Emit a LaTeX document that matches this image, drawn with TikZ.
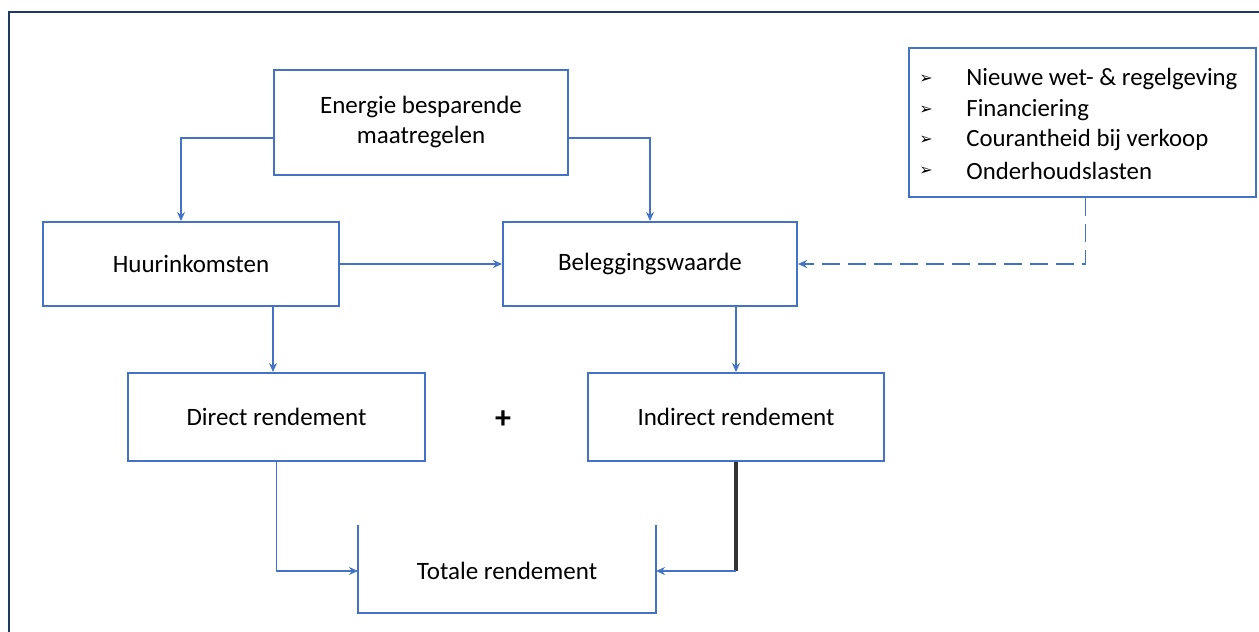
\documentclass[tikz,border=0pt]{standalone}
\usepackage{fontspec}
\setmainfont{Carlito}
\newfontfamily\symfont{DejaVu Sans}
\usetikzlibrary{arrows.meta}
\definecolor{boxblue}{HTML}{4472C4}
\definecolor{navy}{HTML}{1F3864}
\tikzset{
  box/.style={draw=boxblue, line width=1pt, fill=white, align=center, font=\fontsize{12.5}{15}\selectfont, inner sep=2pt},
  conn/.style={draw=boxblue, line width=0.9pt, -{Stealth[length=4.5pt,width=4pt]}},
  listtext/.style={anchor=west, font=\fontsize{12.4}{14}\selectfont, inner sep=0pt},
  bullet/.style={anchor=center, font=\symfont\fontsize{8}{9}\selectfont, inner sep=0pt},
}
\begin{document}
\begin{tikzpicture}[x=0.5pt,y=-0.5pt]
\useasboundingbox (0,0) rectangle (1259,632);
\draw[navy, line width=1.2pt] (9,12) rectangle (1275,650);

\node[box, minimum width=147pt, minimum height=52.5pt] (ener) at (421,122) {Energie besparende\\maatregelen};
\node[box, minimum width=148pt, minimum height=42pt] (huur) at (191,264) {Huurinkomsten};
\node[box, minimum width=147pt, minimum height=42pt] (beleg) at (650,264) {Beleggingswaarde};
\node[box, minimum width=148.5pt, minimum height=44pt] (direct) at (276.5,417) {Direct rendement};
\node[box, minimum width=148pt, minimum height=44pt] (indirect) at (736,417) {Indirect rendement};
\node[box, minimum width=173.5pt, minimum height=74.5pt] (lijst) at (1082.5,122.5) {};

\node[bullet] (b1) at (926,79) {➢};
\node[listtext] (l1) at (966,79) {Nieuwe wet- \& regelgeving};
\node[bullet] (b2) at (926,110) {➢};
\node[listtext] (l2) at (966,110) {Financiering};
\node[bullet] (b3) at (926,140) {➢};
\node[listtext] (l3) at (966,140) {Courantheid bij verkoop};
\node[bullet] (b4) at (926,171) {➢};
\node[listtext] (l4) at (966,171) {Onderhoudslasten};

% Totale rendement (open top)
\draw[boxblue, line width=1pt] (358,525) -- (358,613) -- (656,613) -- (656,525);
\coordinate (totL) at (358,571);
\coordinate (totR) at (656,571);
\node[font=\fontsize{12.5}{15}\selectfont, inner sep=0pt] (tot) at (507,571) {Totale rendement};

\node[font=\fontsize{16}{18}\selectfont\bfseries, inner sep=0pt] (plus) at (503,420) {+};

% connectors
\draw[conn] ([yshift=-8pt]ener.west) -| ([xshift=-5pt]huur.north);
\draw[conn] ([yshift=-8pt]ener.east) -| (beleg.north);
\draw[conn] (huur.east) -- (beleg.west);
\draw[conn] ([xshift=41pt]huur.south) coordinate (h1) -- (h1 |- direct.north);
\draw[conn] (beleg.south -| indirect.north) -- (indirect.north);
\draw[conn] (direct.south) |- (totL);
\draw[black!80, line width=1.6pt] (indirect.south) -- (indirect.south |- totR) coordinate (i1);
\draw[conn] (i1) -- (totR);
\draw[conn, dashed, dash pattern=on 9pt off 4pt] ([xshift=1.5pt]lijst.south) |- (beleg.east);
\end{tikzpicture}
\end{document}
